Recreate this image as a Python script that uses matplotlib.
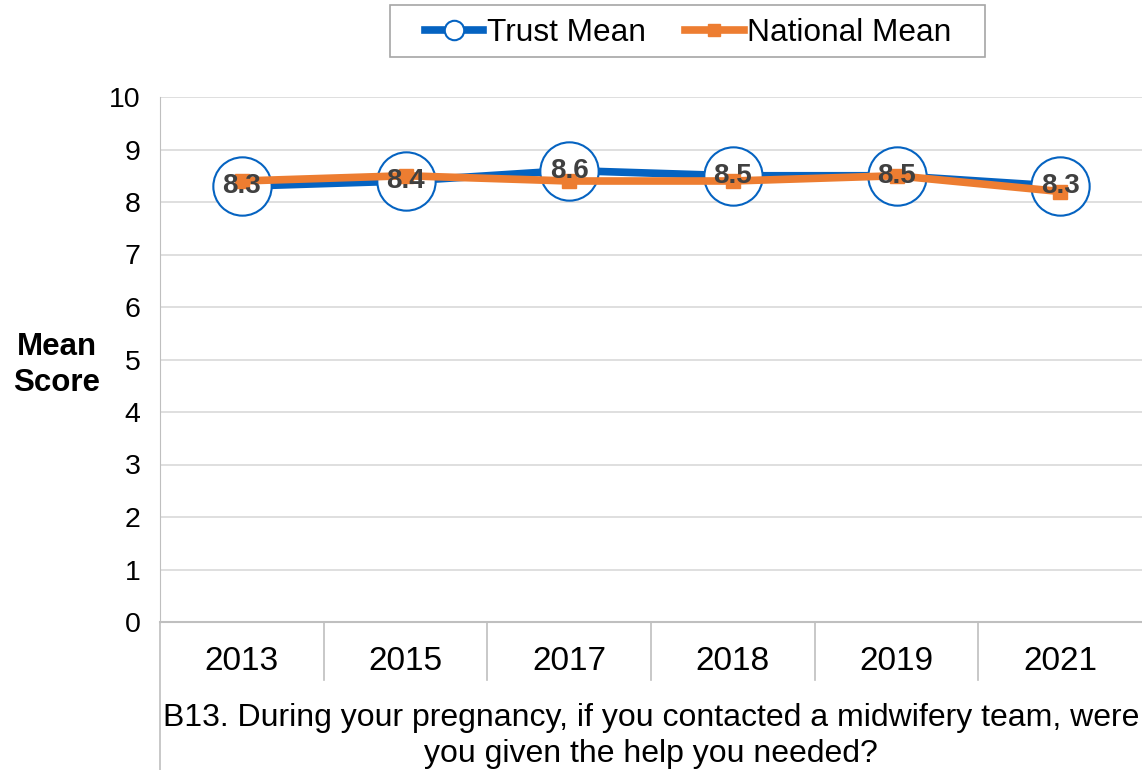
import numpy as np
import matplotlib.pyplot as plt
import matplotlib.transforms as mtransforms
from matplotlib.lines import Line2D
from matplotlib.patches import Rectangle

plt.rcParams['font.family'] = ['Liberation Sans', 'DejaVu Sans']

years = ['2013', '2015', '2017', '2018', '2019', '2021']
trust_mean = [8.3, 8.4, 8.6, 8.5, 8.5, 8.3]
national_mean = [8.4, 8.5, 8.4, 8.4, 8.5, 8.2]
question = "B13. During your pregnancy, if you contacted a midwifery team, were\nyou given the help you needed?"

blue = '#0563C1'
orange = '#ED7D31'
grey = '#BFBFBF'

W, H = 1142, 770
fig = plt.figure(figsize=(W / 100, H / 100), dpi=100)
ax = fig.add_axes([160 / W, 148 / H, 982 / W, 525 / H])

x = np.arange(len(years))
ax.plot(x, trust_mean, color=blue, lw=5.5, marker='o', ms=42, mfc='white',
        mec=blue, mew=1.5, zorder=3)
ax.plot(x, national_mean, color=orange, lw=5.5, marker='s', ms=10, zorder=4)

for xi, v in zip(x, trust_mean):
    ax.text(xi, v, f'{v:.1f}', ha='center', va='center', fontsize=20,
            fontweight='bold', color='#404040', zorder=5)

ax.set_xlim(-0.5, len(years) - 0.5)
ax.set_ylim(0, 10)
ax.set_yticks(range(0, 11))
ax.tick_params(axis='y', length=0, labelsize=20.5, pad=14)
ax.set_xticks([])
ax.grid(axis='y', color='#D9D9D9', lw=1.2)
ax.set_axisbelow(True)
for s in ['top', 'right']:
    ax.spines[s].set_visible(False)
ax.spines['left'].set_color(grey)
ax.spines['bottom'].set_color(grey)
ax.spines['bottom'].set_linewidth(1.5)

# category axis labels and separators
trans = mtransforms.blended_transform_factory(ax.transData, ax.transAxes)
for i, yr in enumerate(years):
    ax.text(i, -39 / 525, yr, transform=trans, ha='center', va='center',
            fontsize=24, color='black')
for b in np.arange(0.5, len(years) - 0.5):
    ax.plot([b, b], [0, -58 / 525], transform=trans, color=grey, lw=1.2,
            clip_on=False)
ax.plot([-0.5, -0.5], [0, -148 / 525], transform=trans, color=grey, lw=1.2,
        clip_on=False)
ax.text(0.5, -114 / 525, question, transform=ax.transAxes, ha='center',
        va='center', fontsize=23, linespacing=1.22)

fig.text(57 / W, 1 - 365 / H, 'Mean\nScore', ha='center', va='center',
         fontsize=22.5, fontweight='bold', linespacing=1.3)

# legend box
fig.patches.append(Rectangle((390 / W, 1 - 57 / H), 595 / W, 52 / H,
                             transform=fig.transFigure, fill=False,
                             edgecolor='#A6A6A6', lw=1.2))
handles = [
    Line2D([], [], color=blue, lw=5.5, marker='o', ms=14, mfc='white',
           mec=blue, mew=1.5),
    Line2D([], [], color=orange, lw=5.5, marker='s', ms=9),
]
fig.legend(handles, ['Trust Mean', 'National Mean'], loc='center',
           bbox_to_anchor=(688 / W, 1 - 33 / H), ncol=2, fontsize=22.8,
           frameon=False, handlelength=1.85, columnspacing=1.25,
           borderpad=0, handletextpad=0.1, borderaxespad=0)

fig.savefig('out.png', dpi=100)
